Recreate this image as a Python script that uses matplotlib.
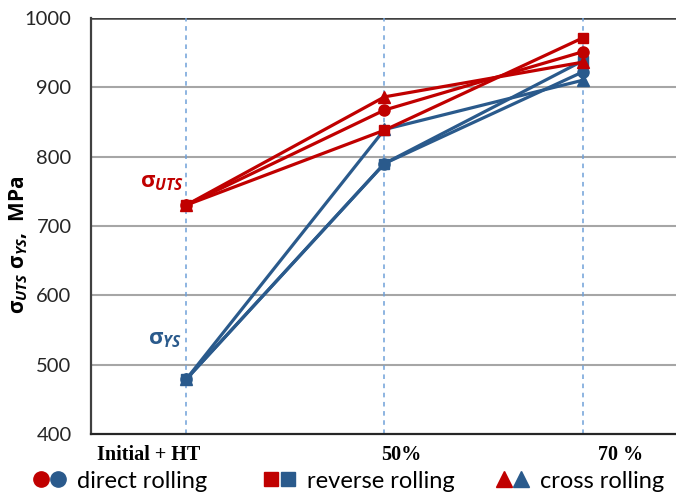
import matplotlib
matplotlib.use("Agg")
import matplotlib.pyplot as plt
import matplotlib.transforms as mtransforms
from matplotlib.lines import Line2D
from matplotlib.legend_handler import HandlerTuple

# ---------------- data ----------------
categories = ["Initial + HT", "50%", "70 %"]
uts_direct = [730, 867, 951]
uts_reverse = [730, 838, 971]
uts_cross = [730, 886, 936]
ys_direct = [479, 790, 922]
ys_reverse = [479, 790, 938]
ys_cross = [479, 839, 910]
yticks = [400, 500, 600, 700, 800, 900, 1000]
legend_labels = ["direct rolling", "reverse rolling", "cross rolling"]
legend_markers = ['o', 's', '^']

RED = "#C00000"
BLUE = "#2A5A8C"

plt.rcParams['font.family'] = ['Lato', 'Open Sans', 'DejaVu Sans']
plt.rcParams['mathtext.fontset'] = 'custom'
plt.rcParams['mathtext.it'] = 'Open Sans:italic:bold'
plt.rcParams['mathtext.rm'] = 'Open Sans:bold'
plt.rcParams['mathtext.bf'] = 'Open Sans:bold'

fig = plt.figure(figsize=(6.76, 4.92), dpi=100)
ax = fig.add_axes([91/676, 1-434.3/492, 1-91/676, (434.3-17.7)/492])

x = list(range(len(categories)))

# grid
for t in yticks[1:-1]:
    ax.axhline(t, color="#A6A6A6", lw=1.5, zorder=0)
ax.axhline(yticks[-1], color="#404040", lw=1.8, zorder=0)
for xi in x:
    ax.axvline(xi, color="#6FA0D8", lw=1.1, ls=(0, (3, 3)), zorder=0)

lw = 2.3
ms = 8
ax.plot(x, ys_direct, color=BLUE, lw=lw, marker='o', ms=ms, zorder=2)
ax.plot(x, ys_cross, color=BLUE, lw=lw, marker='^', ms=ms, zorder=2)
ax.plot(x, ys_reverse, color=BLUE, lw=lw, marker='s', ms=ms-1, zorder=2)
ax.plot(x, uts_direct, color=RED, lw=lw, marker='o', ms=ms, zorder=3)
ax.plot(x, uts_cross, color=RED, lw=lw, marker='^', ms=ms, zorder=3)
ax.plot(x, uts_reverse, color=RED, lw=lw, marker='s', ms=ms-1, zorder=3)

ax.set_xlim(-0.479, 2.469)
ax.set_ylim(400, 1000)
ax.set_yticks(yticks)
ax.tick_params(axis='y', length=0, pad=14, labelsize=14.5, labelcolor="#262626")
ax.set_xticks(x)
ax.set_xticklabels(categories, fontfamily='Liberation Serif', fontweight='bold',
                   fontsize=14.5)
ax.tick_params(axis='x', length=0, pad=8)
label_shift_px = [-37, 17, 38]
for lab, dx in zip(ax.get_xticklabels(), label_shift_px):
    lab.set_transform(lab.get_transform() +
                      mtransforms.ScaledTranslation(dx/100, 0, fig.dpi_scale_trans))

for s in ['top', 'right']:
    ax.spines[s].set_visible(False)
ax.spines['left'].set_color("#404040")
ax.spines['left'].set_linewidth(1.6)
ax.spines['bottom'].set_color("#262626")
ax.spines['bottom'].set_linewidth(1.6)

ax.set_ylabel("σ$_{UTS}$ σ$_{YS}$,  MPa", fontweight='bold', fontsize=15,
              family=['Open Sans', 'DejaVu Sans'])
ax.yaxis.set_label_coords(-0.104, 0.454)

ax.text(-0.01, 763, "σ$_{UTS}$", color=RED, fontsize=16, fontweight='bold',
        ha='right', va='center', family=['Open Sans', 'DejaVu Sans'])
ax.text(-0.02, 537, "σ$_{YS}$", color=BLUE, fontsize=16, fontweight='bold',
        ha='right', va='center', family=['Open Sans', 'DejaVu Sans'])

# legend: three separate entries placed along the bottom
legend_left_px = [33, 263, 496]
for lab, mkr, xl in zip(legend_labels, legend_markers, legend_left_px):
    size = 10 if mkr == 's' else 11
    h = (Line2D([], [], marker=mkr, color=RED, ls='none', ms=size),
         Line2D([], [], marker=mkr, color=BLUE, ls='none', ms=size))
    leg = fig.legend([h], [lab], loc='center left',
                     bbox_to_anchor=(xl/676, 1-481/492),
                     frameon=False, fontsize=17,
                     handler_map={tuple: HandlerTuple(ndivide=None, pad=0.0)},
                     handlelength=1.4, handletextpad=0.45,
                     borderpad=0, borderaxespad=0)

fig.savefig("out.png", dpi=100)
